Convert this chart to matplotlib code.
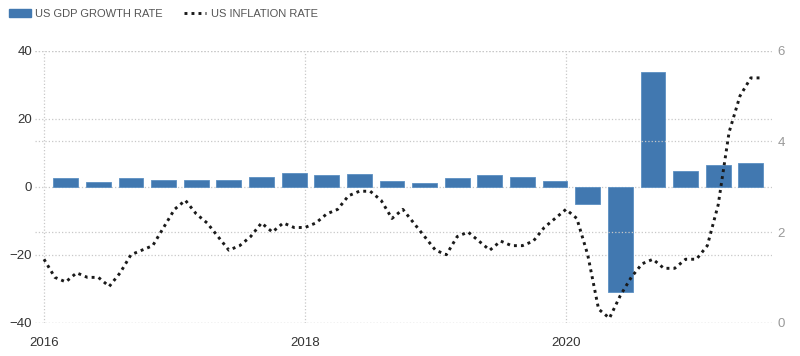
"""US GDP growth (quarterly bars) and inflation (monthly dotted line)."""
import numpy as np
import matplotlib.pyplot as plt
from matplotlib.patches import Patch
from matplotlib.lines import Line2D

plt.rcParams['font.family'] = ['Liberation Sans', 'DejaVu Sans']

# GDP growth rate, % (annualised q/q), 2016Q1 .. 2021Q2
anios_pib = [2016] * 4 + [2017] * 4 + [2018] * 4 + [2019] * 4 + [2020] * 4 + [2021] * 2
trimestres = [1, 2, 3, 4] * 5 + [1, 2]
pib = [2.7, 1.3, 2.7, 2.1,
       1.9, 2.1, 3.0, 3.9,
       3.3, 3.6, 1.8, 1.0,
       2.7, 3.3, 3.0, 1.8,
       -5.0, -31.1, 33.8, 4.7,
       6.3, 6.9]

# Inflation rate, % y/y, monthly from Jan 2016 .. Jul 2021
inflacion = [1.4, 1.0, 0.9, 1.1, 1.0, 1.0, 0.8, 1.1, 1.5, 1.6, 1.7, 2.1,
             2.5, 2.7, 2.4, 2.2, 1.9, 1.6, 1.7, 1.9, 2.2, 2.0, 2.2, 2.1,
             2.1, 2.2, 2.4, 2.5, 2.8, 2.9, 2.9, 2.7, 2.3, 2.5, 2.2, 1.9,
             1.6, 1.5, 1.9, 2.0, 1.8, 1.6, 1.8, 1.7, 1.7, 1.8, 2.1, 2.3,
             2.5, 2.3, 1.5, 0.3, 0.1, 0.6, 1.0, 1.3, 1.4, 1.2, 1.2, 1.4,
             1.4, 1.7, 2.6, 4.2, 5.0, 5.4, 5.4]

x_pib = np.array(anios_pib) + (3 * np.array(trimestres) - 1) / 12.0
x_inf = 2016 + np.arange(len(inflacion)) / 12.0

azul = '#4178b0'
gris_grid = '#c8c8c8'
estilo_punteado = (0, (1, 1.4))

fig = plt.figure(figsize=(8, 3.56), dpi=100)
ax = fig.add_axes([0.04375, 0.0935, 0.92125, 0.7641])
ax.bar(x_pib, pib, width=0.19, color=azul, edgecolor='#5b8fc2', linewidth=0.6)
ax.set_ylim(-40, 40)
ax.set_yticks([-40, -20, 0, 20, 40])
ax.set_xlim(2015.931, 2021.579)
ax.set_xticks([2016, 2018, 2020])
ax.set_xticklabels(['2016', '2018', '2020'])
ax.grid(True, color=gris_grid, linestyle=':', linewidth=0.9)
ax.set_axisbelow(True)
ax.tick_params(axis='both', length=0, labelsize=9.5, colors='#333333')
ax.tick_params(axis='y', pad=2)
ax.tick_params(axis='x', pad=10)
for s in ax.spines.values():
    s.set_visible(False)

ax2 = ax.twinx()
ax2.plot(x_inf, inflacion, color='#1a1a1a', linewidth=2.1, linestyle=estilo_punteado)
ax2.set_ylim(0, 6)
ax2.set_yticks([0, 2, 4, 6])
ax2.grid(True, color=gris_grid, linestyle=':', linewidth=0.9)
ax2.tick_params(axis='y', length=0, labelsize=9.5, colors='#999999', pad=4)
for s in ax2.spines.values():
    s.set_visible(False)

manejadores = [Patch(facecolor=azul, edgecolor=azul),
               Line2D([], [], color='#1a1a1a', linewidth=2.1, linestyle=estilo_punteado)]
fig.legend(manejadores, ['US GDP GROWTH RATE', 'US INFLATION RATE'],
           loc='upper left', bbox_to_anchor=(0.011, 0.975), ncol=2, frameon=False,
           fontsize=8, labelcolor='#555555', handlelength=2.0, handletextpad=0.4,
           columnspacing=1.9, borderpad=0, borderaxespad=0)

plt.savefig('out.png', dpi=100)
